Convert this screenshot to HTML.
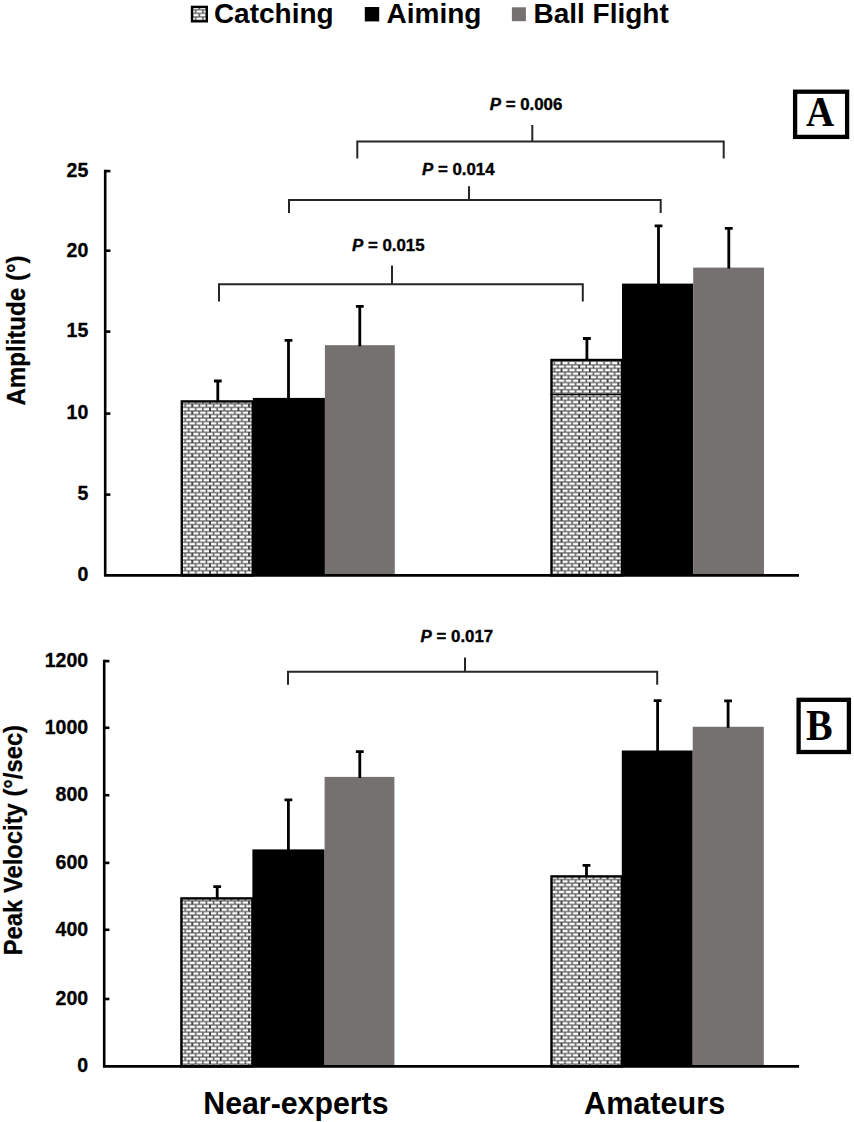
<!DOCTYPE html>
<html><head><meta charset="utf-8"><title>Chart</title>
<style>
html,body{margin:0;padding:0;background:#fff;}
body{width:854px;height:1122px;overflow:hidden;}
svg text{font-family:"Liberation Sans",sans-serif;font-weight:bold;fill:#000;}
svg text.b{font-family:"Liberation Serif",serif;}
</style></head><body>
<svg width="854" height="1122" viewBox="0 0 854 1122" style="display:block">
<defs>
<pattern id="brick" width="28.4" height="7.1" patternUnits="userSpaceOnUse" x="181.6" y="400.3">
<rect width="28.4" height="7.1" fill="#fff"/>
<path d="M0 0H28.4M0 3.55H28.4M0 7.1H28.4" stroke="#6e6e6e" stroke-width="1.5"/>
<path d="M7.1 0V3.55M14.2 0V3.55M21.3 0V3.55M3.55 3.55V7.1M17.75 3.55V7.1M24.85 3.55V7.1" stroke="#5c5c5c" stroke-width="1.6"/>
<path d="M0 0V3.55M28.4 0V3.55M10.65 3.55V7.1" stroke="#2e2e2e" stroke-width="1.7"/>
</pattern>
</defs>
<rect width="854" height="1122" fill="#fff"/>
<g>
<rect x="181.79999999999998" y="401.4" width="71.0" height="174.0" fill="url(#brick)" stroke="#000" stroke-width="2.4"/><rect x="252.8" y="397.9" width="72.1" height="177.5" fill="#000"/><rect x="324.9" y="345.2" width="69.9" height="230.2" fill="#767171"/><path d="M217.8 401.2V381.0M213.9 381.0H221.70000000000002" stroke="#000" stroke-width="2.8" fill="none"/><path d="M288.5 398.9V340.3M284.6 340.3H292.4" stroke="#000" stroke-width="2.8" fill="none"/><path d="M359.8 346.2V306.4M355.90000000000003 306.4H363.7" stroke="#000" stroke-width="2.8" fill="none"/>
<rect x="551.5" y="360.0" width="70.5" height="215.4" fill="url(#brick)" stroke="#000" stroke-width="2.4"/><rect x="622.0" y="283.6" width="71.2" height="291.8" fill="#000"/><rect x="693.2" y="267.6" width="70.8" height="307.8" fill="#767171"/><path d="M586.9 359.8V338.5M583.0 338.5H590.8" stroke="#000" stroke-width="2.8" fill="none"/><path d="M658.5 284.6V225.9M654.6 225.9H662.4" stroke="#000" stroke-width="2.8" fill="none"/><path d="M728.8 268.6V228.3M724.9 228.3H732.6999999999999" stroke="#000" stroke-width="2.8" fill="none"/>
<path d="M550.3 394.5H622" stroke="#000" stroke-width="1.6"/>
<path d="M105.2 169.79999999999998V575.4H799" stroke="#000" stroke-width="2.6" fill="none"/>
<text transform="translate(88.3,581.2)" text-anchor="end" font-size="19.5" class="t" stroke="#000" stroke-width="0.3">0</text>
<path d="M105.2 494.6H110.4" stroke="#000" stroke-width="2.6"/>
<text transform="translate(88.3,500.4)" text-anchor="end" font-size="19.5" class="t" stroke="#000" stroke-width="0.3">5</text>
<path d="M105.2 413.6H110.4" stroke="#000" stroke-width="2.6"/>
<text transform="translate(88.3,419.4)" text-anchor="end" font-size="19.5" class="t" stroke="#000" stroke-width="0.3">10</text>
<path d="M105.2 331.6H110.4" stroke="#000" stroke-width="2.6"/>
<text transform="translate(88.3,337.4)" text-anchor="end" font-size="19.5" class="t" stroke="#000" stroke-width="0.3">15</text>
<path d="M105.2 250.7H110.4" stroke="#000" stroke-width="2.6"/>
<text transform="translate(88.3,256.5)" text-anchor="end" font-size="19.5" class="t" stroke="#000" stroke-width="0.3">20</text>
<path d="M105.2 171.1H110.4" stroke="#000" stroke-width="2.6"/>
<text transform="translate(88.3,176.9)" text-anchor="end" font-size="19.5" class="t" stroke="#000" stroke-width="0.3">25</text>
<rect x="181.39999999999998" y="898.4000000000001" width="71.0" height="168.0" fill="url(#brick)" stroke="#000" stroke-width="2.4"/><rect x="252.4" y="849.4" width="72.2" height="217.0" fill="#000"/><rect x="324.6" y="776.9" width="69.8" height="289.5" fill="#767171"/><path d="M217.2 898.2V886.6M213.29999999999998 886.6H221.1" stroke="#000" stroke-width="2.8" fill="none"/><path d="M288.4 850.4V799.8M284.5 799.8H292.29999999999995" stroke="#000" stroke-width="2.8" fill="none"/><path d="M359.8 777.9V751.6M355.90000000000003 751.6H363.7" stroke="#000" stroke-width="2.8" fill="none"/>
<rect x="551.5" y="876.4000000000001" width="70.3" height="190.0" fill="url(#brick)" stroke="#000" stroke-width="2.4"/><rect x="621.8" y="750.5" width="70.9" height="315.9" fill="#000"/><rect x="692.7" y="726.8" width="71.1" height="339.6" fill="#767171"/><path d="M586.5 876.2V865.4M582.6 865.4H590.4" stroke="#000" stroke-width="2.8" fill="none"/><path d="M657.6 751.5V700.6M653.7 700.6H661.5" stroke="#000" stroke-width="2.8" fill="none"/><path d="M728.1 727.8V700.9M724.2 700.9H732.0" stroke="#000" stroke-width="2.8" fill="none"/>
<path d="M104.2 659.8000000000001V1066.4H799" stroke="#000" stroke-width="2.6" fill="none"/>
<text transform="translate(88.1,1072.4)" text-anchor="end" font-size="19.5" class="t" stroke="#000" stroke-width="0.3">0</text>
<path d="M104.2 999.0H109.4" stroke="#000" stroke-width="2.6"/>
<text transform="translate(88.1,1005.0)" text-anchor="end" font-size="19.5" class="t" stroke="#000" stroke-width="0.3">200</text>
<path d="M104.2 929.8H109.4" stroke="#000" stroke-width="2.6"/>
<text transform="translate(88.1,935.8)" text-anchor="end" font-size="19.5" class="t" stroke="#000" stroke-width="0.3">400</text>
<path d="M104.2 862.9H109.4" stroke="#000" stroke-width="2.6"/>
<text transform="translate(88.1,868.9)" text-anchor="end" font-size="19.5" class="t" stroke="#000" stroke-width="0.3">600</text>
<path d="M104.2 795.2H109.4" stroke="#000" stroke-width="2.6"/>
<text transform="translate(88.1,801.2)" text-anchor="end" font-size="19.5" class="t" stroke="#000" stroke-width="0.3">800</text>
<path d="M104.2 727.8H109.4" stroke="#000" stroke-width="2.6"/>
<text transform="translate(88.1,733.8)" text-anchor="end" font-size="19.5" class="t" stroke="#000" stroke-width="0.3">1000</text>
<path d="M104.2 661.1H109.4" stroke="#000" stroke-width="2.6"/>
<text transform="translate(88.1,667.1)" text-anchor="end" font-size="19.5" class="t" stroke="#000" stroke-width="0.3">1200</text>
<path d="M219 301.5V284.3H582.8V301.5M392 284.3V265.6" stroke="#262626" stroke-width="2" fill="none"/>
<path d="M289 213V200H660.7V213M469 200V186.3" stroke="#262626" stroke-width="2" fill="none"/>
<path d="M357.3 158.6V141.6H723.7V158.6M532.3 141.6V125" stroke="#262626" stroke-width="2" fill="none"/>
<path d="M288 684.8V671.7H657.2V684.8M465 671.7V657.5" stroke="#262626" stroke-width="2" fill="none"/>
<text transform="translate(388.3,250.9) scale(1,1.05)" text-anchor="middle" font-size="16.4" class="p" textLength="72.6" lengthAdjust="spacingAndGlyphs" stroke="#000" stroke-width="0.35"><tspan font-style="italic">P</tspan> = 0.015</text>
<text transform="translate(458.3,174.7) scale(1,1.05)" text-anchor="middle" font-size="16.4" class="p" textLength="72.6" lengthAdjust="spacingAndGlyphs" stroke="#000" stroke-width="0.35"><tspan font-style="italic">P</tspan> = 0.014</text>
<text transform="translate(526.0,110.3) scale(1,1.05)" text-anchor="middle" font-size="16.4" class="p" textLength="72.6" lengthAdjust="spacingAndGlyphs" stroke="#000" stroke-width="0.35"><tspan font-style="italic">P</tspan> = 0.006</text>
<text transform="translate(456.9,642.0) scale(1,1.05)" text-anchor="middle" font-size="16.4" class="p" textLength="72.6" lengthAdjust="spacingAndGlyphs" stroke="#000" stroke-width="0.35"><tspan font-style="italic">P</tspan> = 0.017</text>
<text transform="translate(24.6,330.5) rotate(-90) scale(1,1.08)" text-anchor="middle" font-size="24.1" class="y" stroke="#000" stroke-width="0.25">Amplitude (°)</text>
<text transform="translate(21.8,840.1) rotate(-90) scale(1,1.09)" text-anchor="middle" font-size="23.8" class="y" stroke="#000" stroke-width="0.25">Peak Velocity (°/sec)</text>
<text transform="translate(295.9,1113.8) scale(1,1.03)" text-anchor="middle" font-size="30.3" class="c" >Near-experts</text>
<text transform="translate(654.6,1113.7) scale(1,1.03)" text-anchor="middle" font-size="30.6" class="c" >Amateurs</text>
<rect x="192" y="6.9" width="14.8" height="14.4" fill="url(#brick)" stroke="#000" stroke-width="2.4"/>
<text transform="translate(213.9,22.9) scale(1,0.96)" text-anchor="start" font-size="28" class="l" >Catching</text>
<rect x="364.8" y="7" width="14.4" height="14.4" fill="#000"/>
<text transform="translate(386.6,22.9) scale(1,0.96)" text-anchor="start" font-size="28" class="l" >Aiming</text>
<rect x="511.9" y="7.3" width="14" height="13.9" fill="#767171"/>
<text transform="translate(533.5,22.9) scale(1,0.96)" text-anchor="start" font-size="28" class="l" >Ball Flight</text>
<rect x="795.1" y="91.7" width="52" height="45.2" fill="#fff" stroke="#000" stroke-width="4.3"/>
<text transform="translate(820.2,125.7) scale(0.93,1.0)" text-anchor="middle" font-size="42.0" class="b" >A</text>
<rect x="798.6" y="699.8" width="50.3" height="52.2" fill="#fff" stroke="#000" stroke-width="4.3"/>
<text transform="translate(819.4,740.3) scale(0.92,1.0)" text-anchor="middle" font-size="43.4" class="b" >B</text>
</g>
</svg>
</body></html>
